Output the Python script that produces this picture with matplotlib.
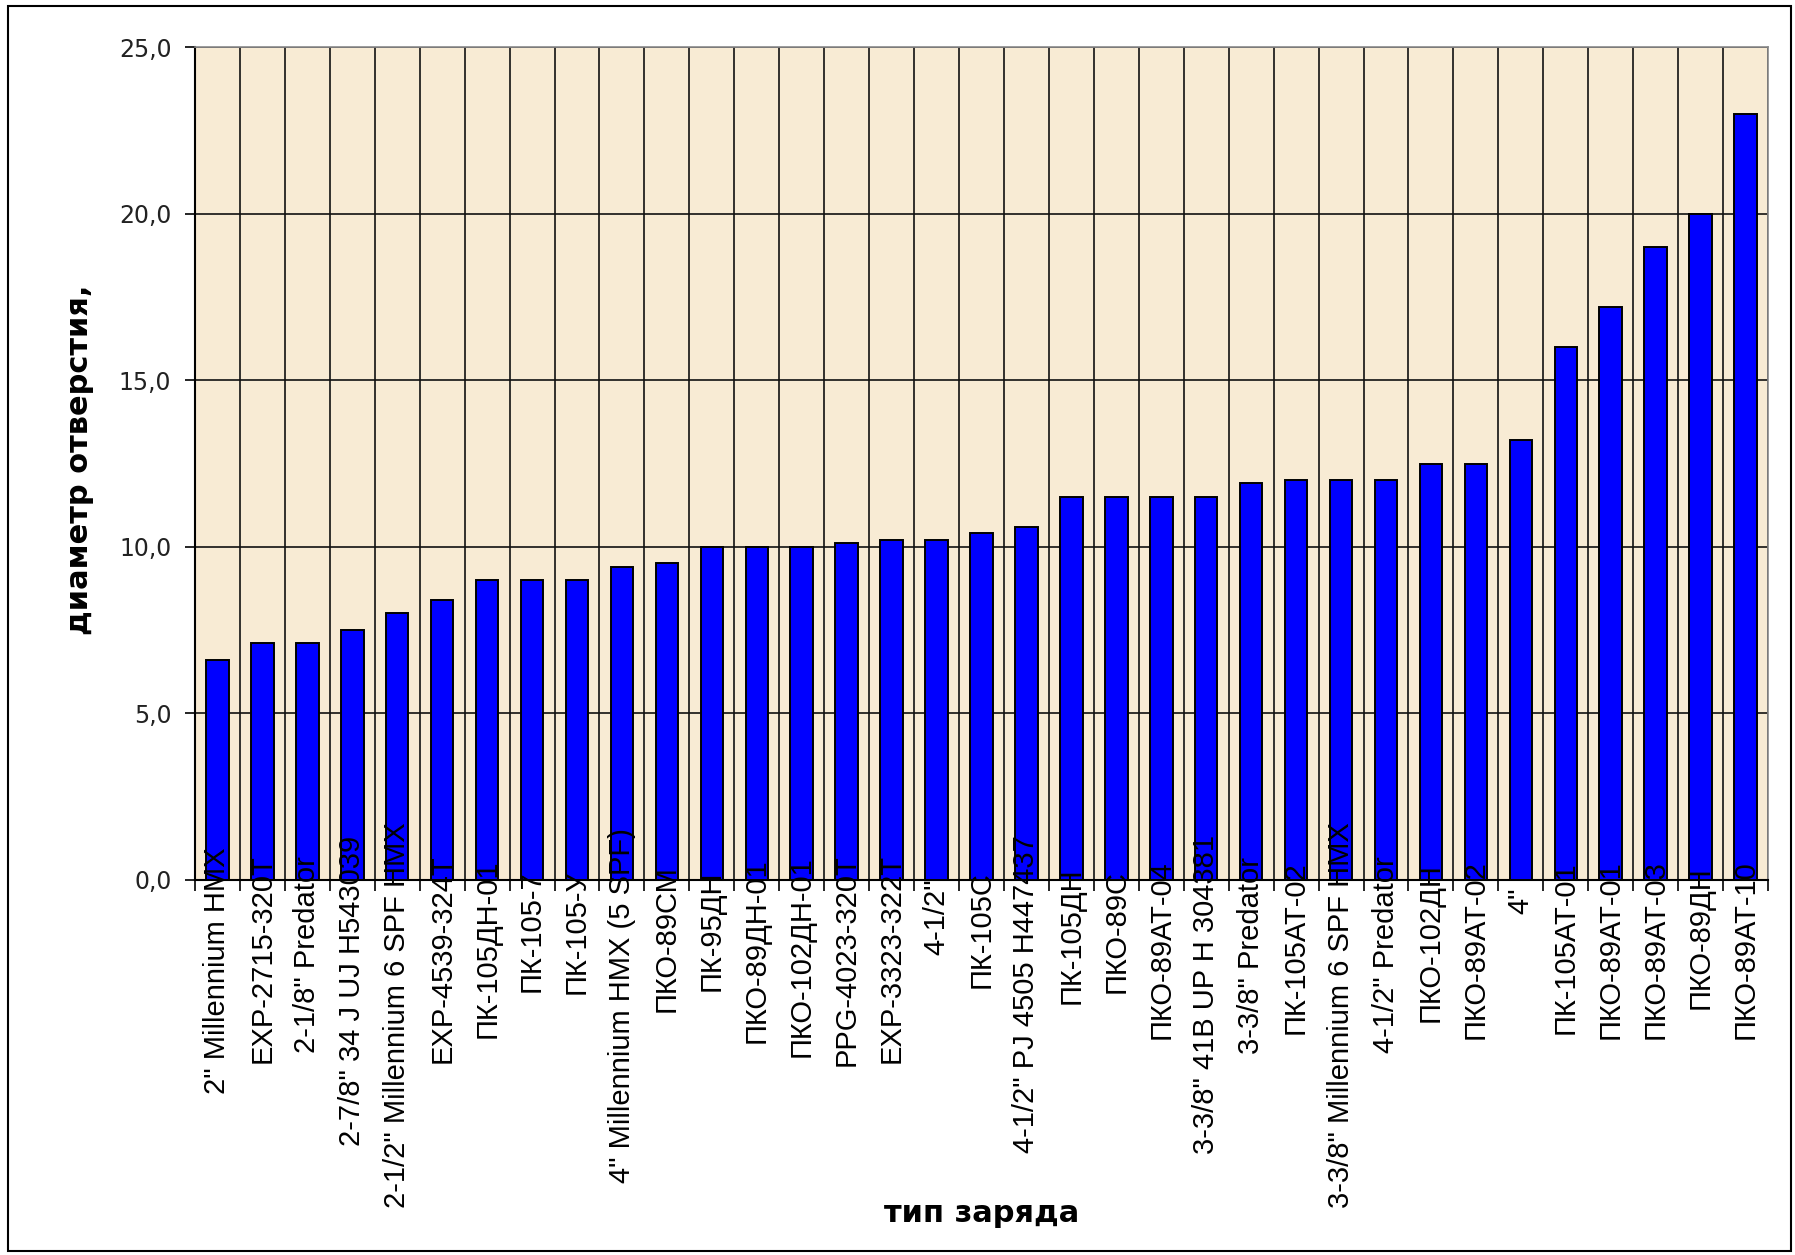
import matplotlib
matplotlib.use("Agg")
import matplotlib.pyplot as plt
from matplotlib.patches import Rectangle
from matplotlib.ticker import FuncFormatter

categories = [
    '2" Millennium HMX', 'EXP-2715-320T', '2-1/8" Predator', '2-7/8" 34 J UJ H543039',
    '2-1/2" Millennium 6 SPF HMX', 'EXP-4539-324T', 'ПК-105ДН-01', 'ПК-105-7', 'ПК-105-У',
    '4" Millennium HMX (5 SPF)', 'ПКО-89СМ', 'ПК-95ДН', 'ПКО-89ДН-01', 'ПКО-102ДН-01',
    'PPG-4023-320T', 'EXP-3323-322T', '4-1/2"', 'ПК-105С', '4-1/2" PJ 4505 H447437',
    'ПК-105ДН', 'ПКО-89С', 'ПКО-89АТ-04', '3-3/8" 41B UP H 304381', '3-3/8" Predator',
    'ПК-105АТ-02', '3-3/8" Millennium 6 SPF HMX', '4-1/2" Predator', 'ПКО-102ДН',
    'ПКО-89АТ-02', '4"', 'ПК-105АТ-01', 'ПКО-89АТ-01', 'ПКО-89АТ-03', 'ПКО-89ДН', 'ПКО-89АТ-10',
]
values = [
    6.6, 7.1, 7.1, 7.5, 8.0, 8.4, 9.0, 9.0, 9.0, 9.4, 9.5, 10.0, 10.0, 10.0, 10.1, 10.2,
    10.2, 10.4, 10.6, 11.5, 11.5, 11.5, 11.5, 11.9, 12.0, 12.0, 12.0, 12.5, 12.5, 13.2,
    16.0, 17.2, 19.0, 20.0, 23.0,
]
y_ticks = [0, 5, 10, 15, 20, 25]
x_title = "тип заряда"
y_title = "диаметр отверстия,"

W, H, DPI = 1795, 1255, 100
fig = plt.figure(figsize=(W / DPI, H / DPI), dpi=DPI, facecolor="white")

# outer frame
fig.patches.append(Rectangle((8 / W, 4 / H), (W - 12) / W, (H - 10) / H,
                             transform=fig.transFigure, fill=False,
                             edgecolor="black", linewidth=1.5))

ax = fig.add_axes([195 / W, (H - 880) / H, (1768 - 195) / W, (880 - 47) / H])
ax.set_facecolor("#F8EBD4")

n = len(categories)
xs = list(range(n))
ax.bar(xs, values, width=0.5, color="#0000FF", edgecolor="black",
       linewidth=1.4, zorder=3)

ax.set_xlim(-0.5, n - 0.5)
ax.set_ylim(0, 25)
ax.set_yticks(y_ticks)
ax.yaxis.set_major_formatter(FuncFormatter(lambda v, p: f"{v:.1f}".replace(".", ",")))
ax.set_xticks([i - 0.5 for i in range(n + 1)])
ax.set_xticklabels([])
ax.grid(True, color="#111111", linewidth=1.2, zorder=1)
ax.set_axisbelow(True)

for s in ["top", "right"]:
    ax.spines[s].set_color("#8a8a8a")
    ax.spines[s].set_linewidth(1.2)
for s in ["left", "bottom"]:
    ax.spines[s].set_color("black")
    ax.spines[s].set_linewidth(1.5)

ax.tick_params(axis="y", direction="out", length=7, width=1.2, pad=10,
               labelsize=17, labelcolor="#222222")
ax.tick_params(axis="x", direction="out", length=8, width=1.2)
for lab in ax.get_yticklabels():
    lab.set_fontfamily("DejaVu Sans")

# category labels, rotated
texts = []
for i, c in enumerate(categories):
    t = ax.annotate(c, xy=(i, 0), xycoords=("data", "axes fraction"),
                    xytext=(0, -10), textcoords="offset points",
                    rotation=90, ha="center", va="top",
                    fontsize=21, family=["Liberation Sans", "DejaVu Sans"],
                    color="black", zorder=5, annotation_clip=False)
    texts.append(t)

fig.canvas.draw()
renderer = fig.canvas.get_renderer()
for t in texts:
    L = t.get_window_extent(renderer).height
    off_px = -12 + 0.18 * L
    t.xyann = (0, off_px * 72.0 / DPI)

fig.text(982 / W, 1 - 1213 / H, x_title, ha="center", va="center",
         fontsize=22, fontweight="bold", family="DejaVu Sans")
fig.text(80 / W, 1 - 460 / H, y_title, ha="center", va="center", rotation=90,
         fontsize=22, fontweight="bold", family="DejaVu Sans")

fig.savefig("out.png", dpi=DPI, facecolor="white")
